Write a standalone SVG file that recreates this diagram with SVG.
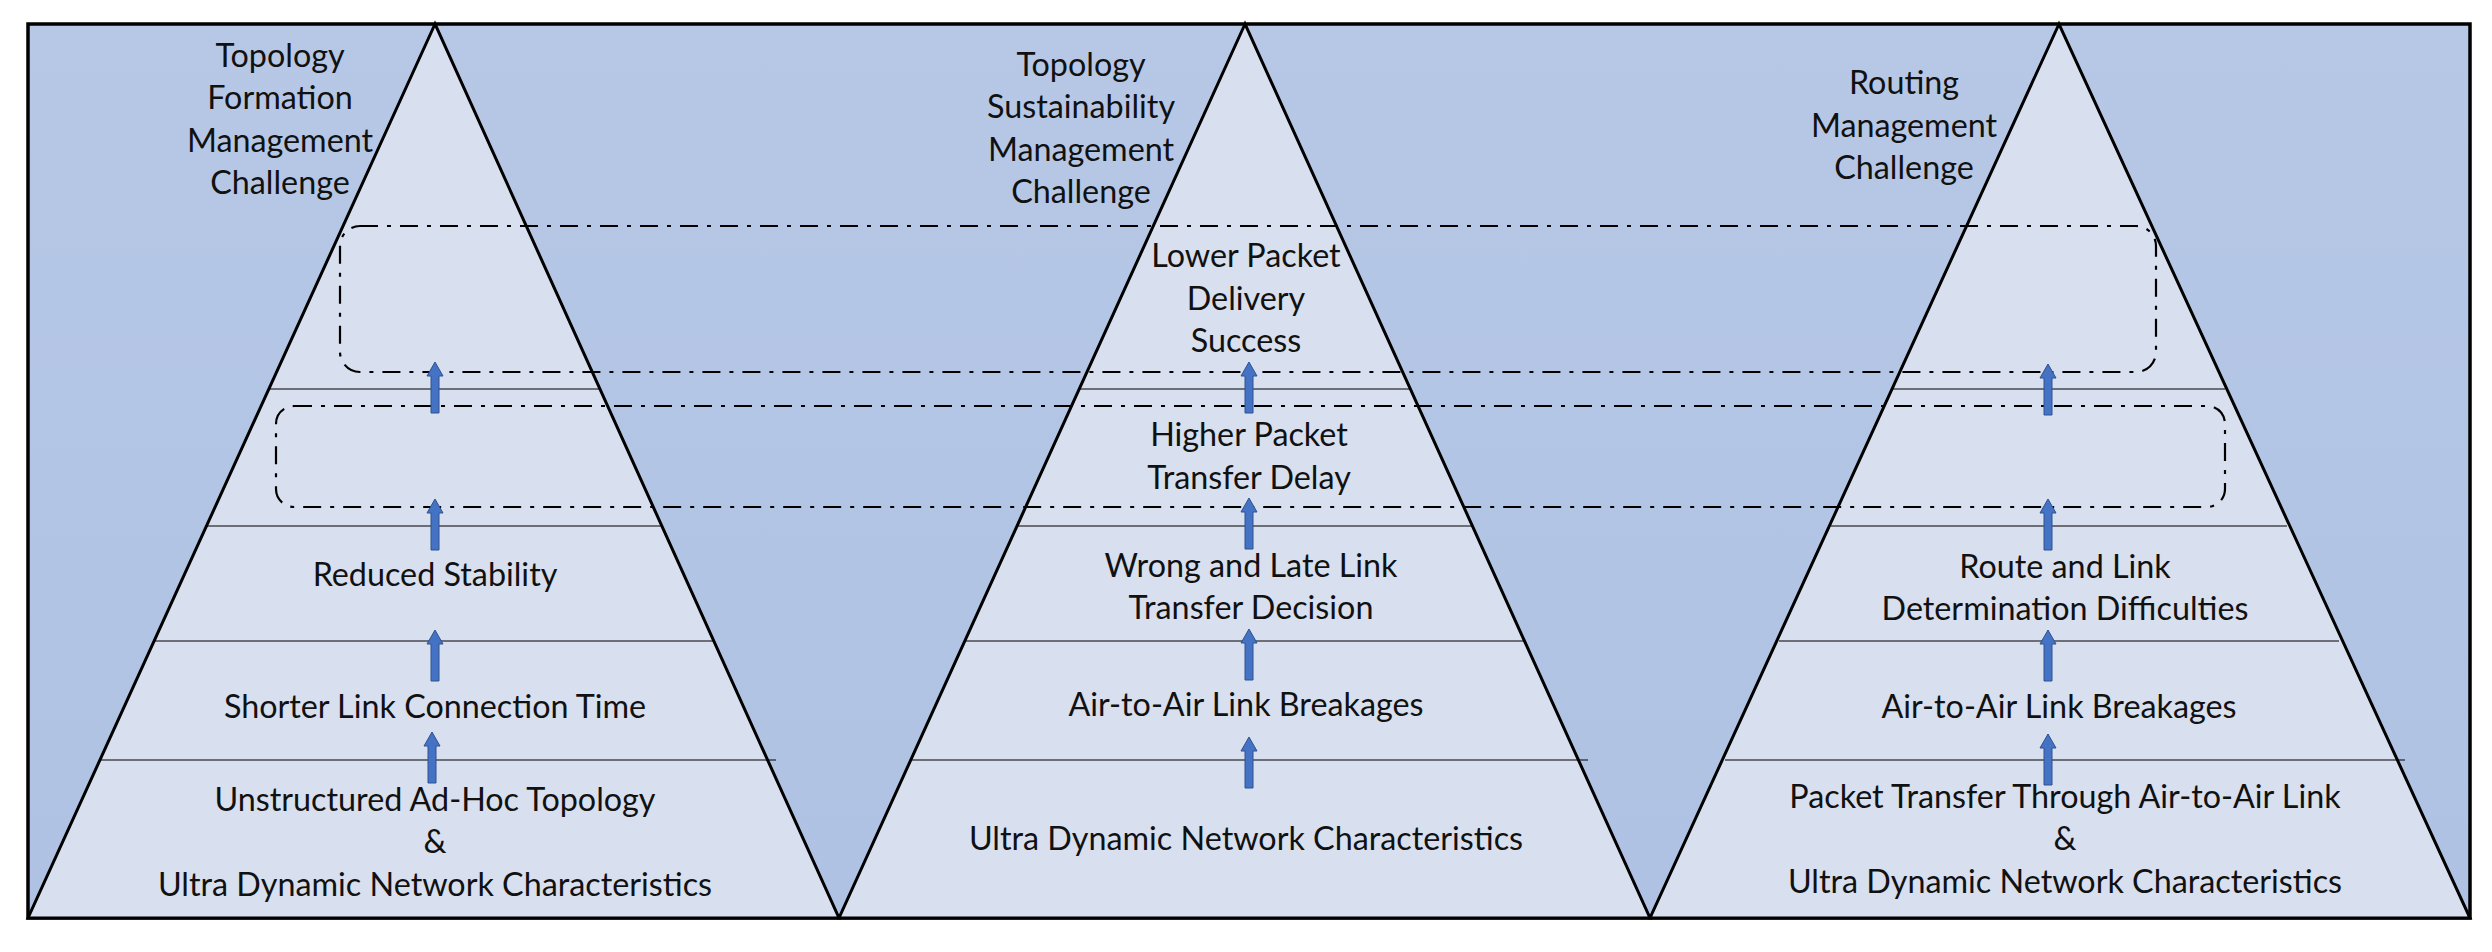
<svg xmlns="http://www.w3.org/2000/svg" width="2492" height="952" viewBox="0 0 2492 952">
<style>
.tri{fill:#D8DFEE;stroke:#000;stroke-width:3}
.lv{stroke:#000;stroke-width:1.2}
.dr{fill:none;stroke:#000;stroke-width:2.2;stroke-dasharray:18 9 4 9}
.ar{fill:#4472C4;stroke:#2F528F;stroke-width:1}
text{font-family:Lato,"Open Sans",sans-serif;font-size:32.3px;fill:#111;text-anchor:middle}
</style>
<defs>
<linearGradient id="bg" x1="0" y1="0" x2="0" y2="1"><stop offset="0" stop-color="#B7C8E6"/><stop offset="1" stop-color="#AFC2E3"/></linearGradient>
<path id="arw" d="M-4,0 V-37 H-8 L0,-51 L8,-37 H4 V0 Z"/>
</defs>
<g id="frame"><rect x="28" y="24" width="2442" height="894" fill="url(#bg)" stroke="#000" stroke-width="3.5"/></g>
<g id="tri1">
<polygon class="tri" points="435,24 28,918 839,918"/>
<line class="lv" x1="269" y1="389" x2="601" y2="389"/>
<line class="lv" x1="207" y1="526" x2="663" y2="526"/>
<line class="lv" x1="155" y1="641" x2="715" y2="641"/>
<line class="lv" x1="101" y1="760" x2="776" y2="760"/>
</g>
<g id="tri2">
<polygon class="tri" points="1245,24 839,918 1650,918"/>
<line class="lv" x1="1079" y1="389" x2="1411" y2="389"/>
<line class="lv" x1="1017" y1="526" x2="1473" y2="526"/>
<line class="lv" x1="965" y1="641" x2="1525" y2="641"/>
<line class="lv" x1="911" y1="760" x2="1588" y2="760"/>
</g>
<g id="tri3">
<polygon class="tri" points="2059,24 1650,918 2470,918"/>
<line class="lv" x1="1893" y1="389" x2="2225" y2="389"/>
<line class="lv" x1="1831" y1="526" x2="2287" y2="526"/>
<line class="lv" x1="1779" y1="641" x2="2339" y2="641"/>
<line class="lv" x1="1725" y1="760" x2="2405" y2="760"/>
</g>
<g id="groups">
<rect class="dr" x="340" y="226" width="1816" height="146" rx="20"/>
<rect class="dr" x="276" y="406" width="1949" height="101" rx="18"/>
</g>
<g id="connectors">
<use href="#arw" class="ar" x="435" y="413"/>
<use href="#arw" class="ar" x="435" y="550"/>
<use href="#arw" class="ar" x="435" y="681"/>
<use href="#arw" class="ar" x="432" y="783"/>
<use href="#arw" class="ar" x="1249" y="413"/>
<use href="#arw" class="ar" x="1249" y="549"/>
<use href="#arw" class="ar" x="1249" y="680"/>
<use href="#arw" class="ar" x="1249" y="788"/>
<use href="#arw" class="ar" x="2048" y="415"/>
<use href="#arw" class="ar" x="2048" y="550"/>
<use href="#arw" class="ar" x="2048" y="681"/>
<use href="#arw" class="ar" x="2048" y="785"/>
</g>
<g id="labels1">
<text x="280" y="67">Topology</text>
<text x="280" y="109">Formation</text>
<text x="280" y="152">Management</text>
<text x="280" y="194">Challenge</text>
<text x="435" y="586">Reduced Stability</text>
<text x="435" y="718">Shorter Link Connection Time</text>
<text x="435" y="811">Unstructured Ad-Hoc Topology</text>
<text x="435" y="853">&amp;</text>
<text x="435" y="896">Ultra Dynamic Network Characteristics</text>
</g>
<g id="labels2">
<text x="1081" y="76">Topology</text>
<text x="1081" y="118">Sustainability</text>
<text x="1081" y="161">Management</text>
<text x="1081" y="203">Challenge</text>
<text x="1246" y="267">Lower Packet</text>
<text x="1246" y="310">Delivery</text>
<text x="1246" y="352">Success</text>
<text x="1249" y="446">Higher Packet</text>
<text x="1249" y="489">Transfer Delay</text>
<text x="1251" y="577">Wrong and Late Link</text>
<text x="1251" y="619">Transfer Decision</text>
<text x="1246" y="716">Air-to-Air Link Breakages</text>
<text x="1246" y="850">Ultra Dynamic Network Characteristics</text>
</g>
<g id="labels3">
<text x="1904" y="94">Routing</text>
<text x="1904" y="137">Management</text>
<text x="1904" y="179">Challenge</text>
<text x="2065" y="578">Route and Link</text>
<text x="2065" y="620">Determination Difficulties</text>
<text x="2059" y="718">Air-to-Air Link Breakages</text>
<text x="2065" y="808">Packet Transfer Through Air-to-Air Link</text>
<text x="2065" y="850">&amp;</text>
<text x="2065" y="893">Ultra Dynamic Network Characteristics</text>
</g>
</svg>
